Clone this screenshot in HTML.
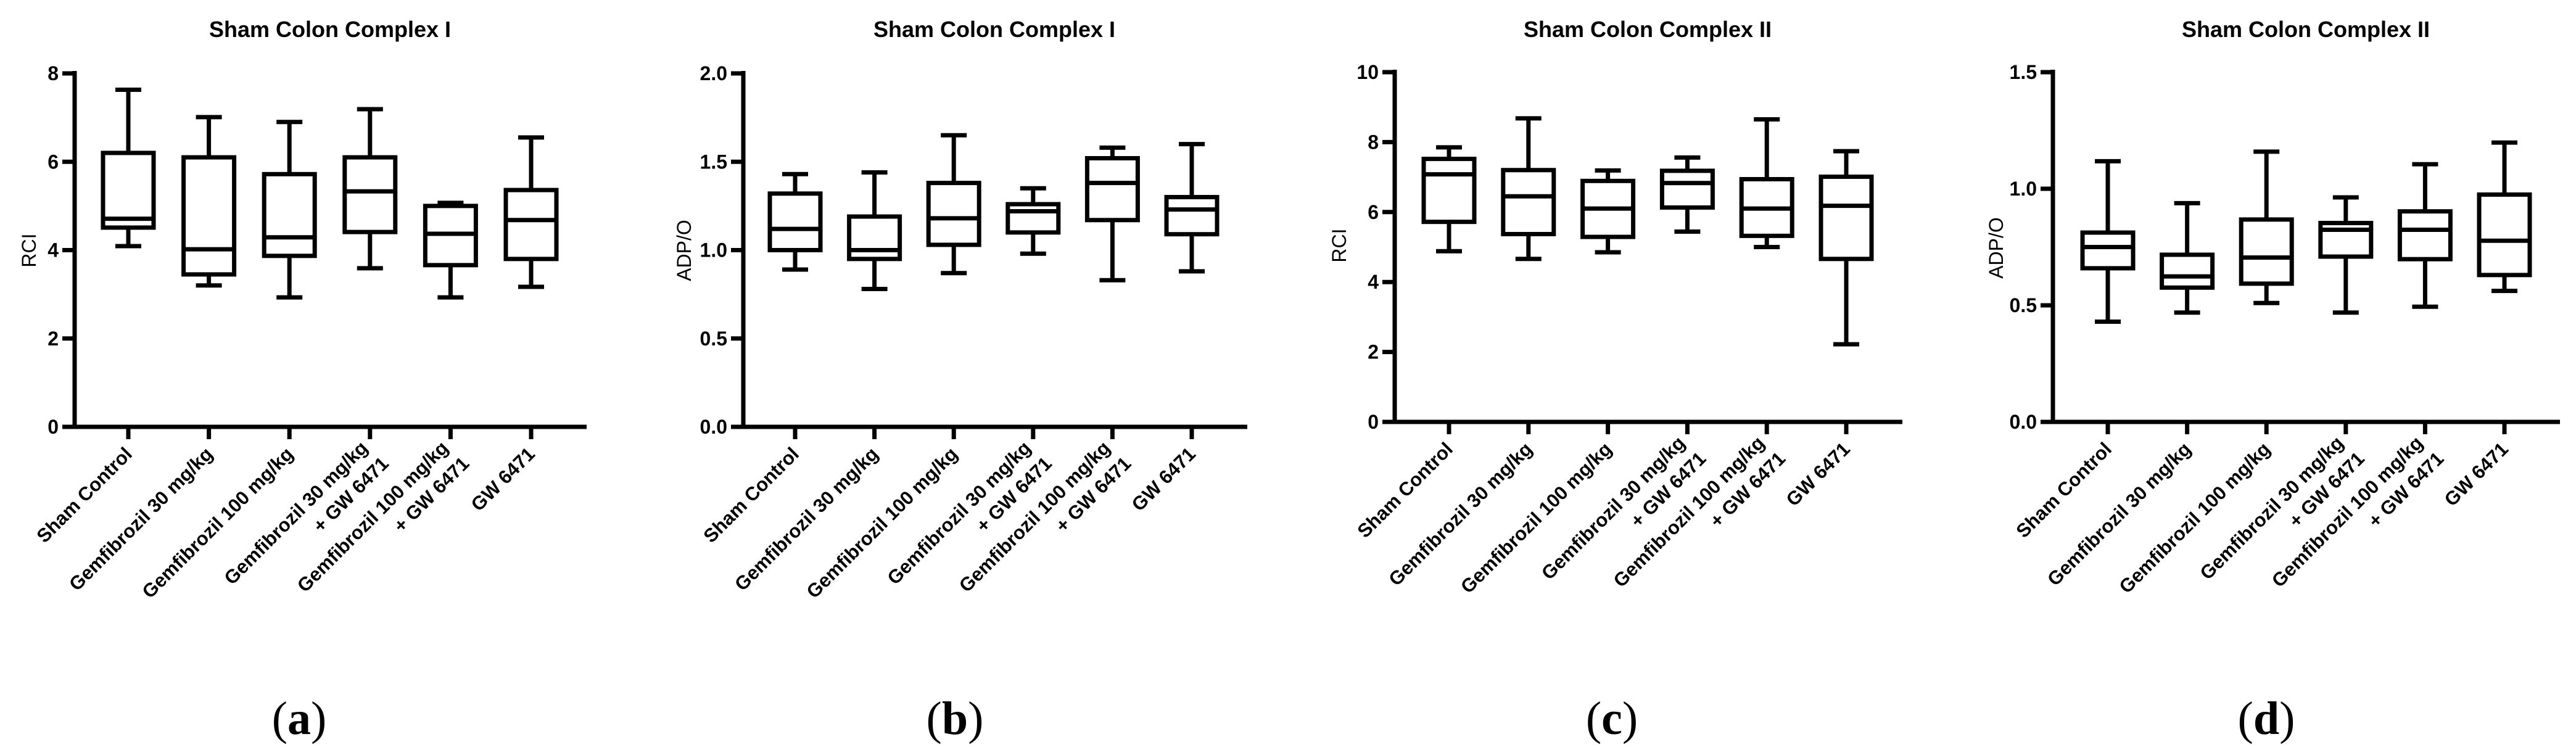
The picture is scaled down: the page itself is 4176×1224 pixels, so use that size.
<!DOCTYPE html>
<html><head><meta charset="utf-8"><style>
html,body{margin:0;padding:0;background:#fff;}
svg{display:block;font-family:"Liberation Sans",Arial,sans-serif;}
</style></head>
<body>
<svg id="fig" width="4176" height="1224" viewBox="0 0 4176 1224" xmlns="http://www.w3.org/2000/svg"></svg>
<script>
const categories = [["Sham Control"],["Gemfibrozil 30 mg/kg"],["Gemfibrozil 100 mg/kg"],["Gemfibrozil 30 mg/kg","+ GW 6471"],["Gemfibrozil 100 mg/kg","+ GW 6471"],["GW 6471"]];

const aMin = [4.09,3.2,2.93,3.59,2.93,3.17];
const aQ1 = [4.51,3.45,3.87,4.41,3.66,3.8];
const aMed = [4.71,4.02,4.29,5.33,4.37,4.68];
const aQ3 = [6.2,6.1,5.72,6.1,5.0,5.36];
const aMax = [7.63,7.01,6.9,7.19,5.07,6.55];
const aTicks = ["0","2","4","6","8"];

const bMin = [0.89,0.78,0.87,0.98,0.83,0.88];
const bQ1 = [1.0,0.95,1.03,1.1,1.17,1.09];
const bMed = [1.12,1.0,1.18,1.22,1.38,1.23];
const bQ3 = [1.32,1.19,1.38,1.26,1.52,1.3];
const bMax = [1.43,1.44,1.65,1.35,1.58,1.6];
const bTicks = ["0.0","0.5","1.0","1.5","2.0"];

const cMin = [4.88,4.66,4.85,5.44,5.0,2.22];
const cQ1 = [5.72,5.37,5.29,6.13,5.32,4.66];
const cMed = [7.08,6.45,6.1,6.83,6.1,6.18];
const cQ3 = [7.52,7.2,6.89,7.18,6.94,7.01];
const cMax = [7.85,8.68,7.19,7.56,8.65,7.74];
const cTicks = ["0","2","4","6","8","10"];

const dMin = [0.43,0.469,0.51,0.469,0.494,0.562];
const dQ1 = [0.659,0.576,0.593,0.709,0.698,0.63];
const dMed = [0.75,0.624,0.705,0.824,0.824,0.777];
const dQ3 = [0.812,0.717,0.868,0.853,0.903,0.975];
const dMax = [1.118,0.938,1.159,0.963,1.105,1.198];
const dTicks = ["0.0","0.5","1.0","1.5"];

const NS="http://www.w3.org/2000/svg";
const svg=document.getElementById('fig');
function mk(tag,attrs,parent){const e=document.createElementNS(NS,tag);for(const k in attrs)e.setAttribute(k,attrs[k]);(parent||svg).appendChild(e);return e;}

const panels=[
 {id:'a',title:'Sham Colon Complex I',ylab:'RCI',ax:121,top:119,bot:692,right:951,x0:208,dx:130.6,ymax:8,ticks:aTicks,mn:aMin,q1:aQ1,md:aMed,q3:aQ3,mx:aMax,tx:535,ylx:47,yly:406,lx:485},
 {id:'b',title:'Sham Colon Complex I',ylab:'ADP/O',ax:1205,top:119,bot:692,right:2022,x0:1289,dx:128.6,ymax:2,ticks:bTicks,mn:bMin,q1:bQ1,md:bMed,q3:bQ3,mx:bMax,tx:1612,ylx:1109,yly:406,lx:1548},
 {id:'c',title:'Sham Colon Complex II',ylab:'RCI',ax:2261,top:117,bot:684,right:3084,x0:2349,dx:128.8,ymax:10,ticks:cTicks,mn:cMin,q1:cQ1,md:cMed,q3:cQ3,mx:cMax,tx:2671,ylx:2171,yly:398,lx:2613},
 {id:'d',title:'Sham Colon Complex II',ylab:'ADP/O',ax:3328,top:117,bot:684,right:4150,x0:3417,dx:128.6,ymax:1.5,ticks:dTicks,mn:dMin,q1:dQ1,md:dMed,q3:dQ3,mx:dMax,tx:3738,ylx:3236,yly:402,lx:3674}
];

panels.forEach(p=>{
  const g=mk('g',{});
  
  
  const y=v=>p.bot-(v/p.ymax)*(p.bot-p.top);
  const x=i=>p.x0+i*p.dx;
  const t=mk('text',{x:p.tx,y:60,'text-anchor':'middle','font-size':36,'font-weight':'bold',fill:'#000'},g);
  t.textContent=p.title;
  
  
  const yl=mk('text',{x:p.ylx+11,y:p.yly,'text-anchor':'middle','font-size':32,fill:'#000',transform:`rotate(-90 ${p.ylx+11} ${p.yly})`},g);
  yl.textContent=p.ylab;
  
  
  const axis=mk('path',{d:`M${p.ax} ${p.top-4} V${p.bot} H${p.right}`,stroke:'#000','stroke-width':7,fill:'none'},g);
  
  
  p.ticks.forEach((lab,i)=>{
    const v=i*p.ymax/(p.ticks.length-1);
    const yy=y(v);
    mk('line',{x1:p.ax-20,x2:p.ax,y1:yy,y2:yy,stroke:'#000','stroke-width':7},g);
    const tl=mk('text',{x:p.ax-26,y:yy+11,'text-anchor':'end','font-size':32,'font-weight':'bold',fill:'#000'},g);
    tl.textContent=lab;
    
    
  });
  categories.forEach((cat,i)=>{
    const cx=x(i);
    mk('line',{x1:cx,x2:cx,y1:p.bot,y2:p.bot+20,stroke:'#000','stroke-width':7},g);
    const bx=mk('g',{},g);
    
    
    const w=82,cw=42;
    mk('line',{x1:cx,x2:cx,y1:y(p.mx[i]),y2:y(p.q3[i]),stroke:'#000','stroke-width':7},bx);
    mk('line',{x1:cx,x2:cx,y1:y(p.q1[i]),y2:y(p.mn[i]),stroke:'#000','stroke-width':7},bx);
    mk('line',{x1:cx-cw/2,x2:cx+cw/2,y1:y(p.mx[i]),y2:y(p.mx[i]),stroke:'#000','stroke-width':7},bx);
    mk('line',{x1:cx-cw/2,x2:cx+cw/2,y1:y(p.mn[i]),y2:y(p.mn[i]),stroke:'#000','stroke-width':7},bx);
    mk('rect',{x:cx-w/2,y:y(p.q3[i]),width:w,height:y(p.q1[i])-y(p.q3[i]),stroke:'#000','stroke-width':7,fill:'#fff'},bx);
    mk('line',{x1:cx-w/2,x2:cx+w/2,y1:y(p.md[i]),y2:y(p.md[i]),stroke:'#000','stroke-width':7},bx);
    const axp=cx+8, ayp=p.bot+46;
    const lt=mk('text',{x:axp,y:ayp,'text-anchor':'end','font-size':31,'font-weight':'bold',fill:'#000',transform:`rotate(-45 ${axp} ${ayp})`},g);
    
    
    cat.forEach((line,j)=>{
      const ts=mk('tspan',{x:axp+(cat.length>1?j*6:0),y:ayp+(cat.length>1?(j*42-14):0)},lt);
      ts.textContent=line;
    });
  });
  const pl=mk('text',{x:p.lx,y:1190,'text-anchor':'middle','font-size':76,'font-family':'"Liberation Serif",serif',fill:'#000'},g);
  
  
  const t1=mk('tspan',{},pl);t1.textContent='(';
  const t2=mk('tspan',{'font-weight':'bold'},pl);t2.textContent=p.id;
  const t3=mk('tspan',{},pl);t3.textContent=')';
});
</script>
</body></html>
